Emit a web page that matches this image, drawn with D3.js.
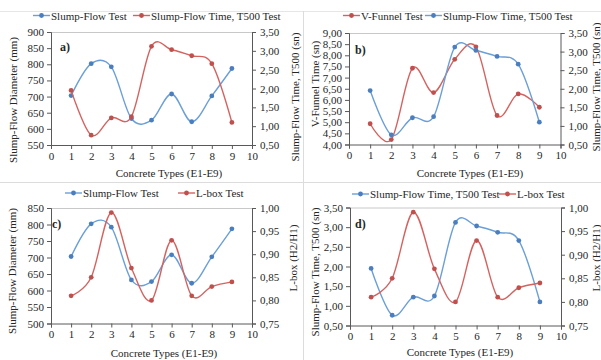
<!DOCTYPE html>
<html><head><meta charset="utf-8">
<script src="https://cdn.jsdelivr.net/npm/d3@7"></script>
<style>
body{margin:0;background:#fff;}
svg{display:block;}
</style></head>
<body>
<svg id="c" width="601" height="360"></svg>
<script>
// ---- data ----
const concreteTypes = [1,2,3,4,5,6,7,8,9];
const slumpFlowDiameter = [703, 802, 792, 632, 627, 708, 622, 702, 787];
const slumpFlowTimeT500 = [1.95, 0.76, 1.22, 1.25, 3.12, 3.03, 2.87, 2.66, 1.10];
const vFunnelTime = [4.93, 4.22, 7.42, 6.33, 7.82, 8.38, 5.30, 6.27, 5.67];
const lBoxRatio = [0.81, 0.85, 0.99, 0.87, 0.80, 0.93, 0.81, 0.83, 0.84];
const xTicks = [0,1,2,3,4,5,6,7,8,9,10];
const diamTicks = [550,600,650,700,750,800,850,900];
const diamTicksC = [500,550,600,650,700,750,800,850];
const t500Ticks = [0.5,1.0,1.5,2.0,2.5,3.0,3.5];
const vfTicks = [4.0,4.5,5.0,5.5,6.0,6.5,7.0,7.5,8.0,8.5,9.0];
const lboxTicks = [0.75,0.80,0.85,0.90,0.95,1.00];

const BLUE_LINE = "#6a9fd8", BLUE_DOT = "#4a7ebf";
const RED_LINE = "#d46360", RED_DOT = "#c0504d";
const FONT = "Liberation Serif";
const TXT = "#262626";

const svg = d3.select("#c");
const fmtInt = d3.format("d");
const fmtDec = v => d3.format(".2f")(v).replace(".", ",");

// separators
svg.append("line").attr("x1",0).attr("x2",601).attr("y1",11.5).attr("y2",11.5).attr("stroke","#e6e6e6");
svg.append("line").attr("x1",0).attr("x2",601).attr("y1",182.5).attr("y2",182.5).attr("stroke","#dcdcdc");
svg.append("line").attr("x1",303.5).attr("x2",303.5).attr("y1",11).attr("y2",360).attr("stroke","#dcdcdc");

function txt(g){ return g.append("text").attr("font-family",FONT).attr("font-size",11).attr("fill",TXT); }

function panel(p){
  const g = svg.append("g");
  const x = d3.scaleLinear().domain([0,10]).range([p.x0,p.x1]);
  const yL = d3.scaleLinear().domain(d3.extent(p.lTicks)).range([p.y1,p.y0]);
  const yR = d3.scaleLinear().domain(d3.extent(p.rTicks)).range([p.y1,p.y0]);
  g.append("line").attr("x1",p.x0).attr("x2",p.x1).attr("y1",p.y0+0.5).attr("y2",p.y0+0.5).attr("stroke","#c8c8c8");
  const axStyle = sel => { sel.attr("font-family",FONT).attr("font-size",11);
    sel.selectAll("path,line").attr("stroke","#595959");
    sel.selectAll("text").attr("fill",TXT).attr("font-family",FONT).attr("font-size",11); };
  g.append("g").attr("transform",`translate(0,${p.y1})`)
    .call(d3.axisBottom(x).tickValues(xTicks).tickFormat(fmtInt).tickSizeOuter(0).tickSize(4).tickPadding(3))
    .call(axStyle);
  g.append("g").attr("transform",`translate(${p.x0},0)`)
    .call(d3.axisLeft(yL).tickValues(p.lTicks).tickFormat(p.lFmt).tickSizeOuter(0).tickSize(4).tickPadding(3))
    .call(axStyle);
  g.append("g").attr("transform",`translate(${p.x1},0)`)
    .call(d3.axisRight(yR).tickValues(p.rTicks).tickFormat(p.rFmt).tickSizeOuter(0).tickSize(4).tickPadding(4))
    .call(axStyle);

  const series = [
    {vals:p.lVals, y:yL, line:p.lColor[0], dot:p.lColor[1]},
    {vals:p.rVals, y:yR, line:p.rColor[0], dot:p.rColor[1]}
  ];
  [0,1].forEach(i => {
    const s = series[i];
    const ln = d3.line().x((d,k)=>x(concreteTypes[k])).y(d=>s.y(d)).curve(d3.curveCardinal.tension(0));
    g.append("path").attr("d",ln(s.vals)).attr("fill","none").attr("stroke",s.line).attr("stroke-width",1.4);
    g.selectAll(null).data(s.vals).enter().append("circle")
      .attr("cx",(d,k)=>x(concreteTypes[k])).attr("cy",d=>s.y(d)).attr("r",2.4).attr("fill",s.dot);
  });

  txt(g).attr("x",p.lab[0]).attr("y",p.lab[1]).text(p.label)
    .attr("font-size",12).attr("font-weight","bold");
  txt(g).attr("x",p.xt[0]).attr("y",p.xt[1]).attr("text-anchor","middle").text("Concrete Types (E1-E9)");
  txt(g).attr("transform",`translate(${p.lt[0]},${p.lt[1]}) rotate(-90)`).attr("text-anchor","middle").text(p.lTitle);
  txt(g).attr("transform",`translate(${p.rt[0]},${p.rt[1]}) rotate(-90)`).attr("text-anchor","middle").text(p.rTitle);
  p.legend.forEach(it => {
    g.append("line").attr("x1",it.x).attr("x2",it.x+17).attr("y1",p.legY).attr("y2",p.legY).attr("stroke",it.c[0]).attr("stroke-width",1.4);
    g.append("circle").attr("cx",it.x+8.5).attr("cy",p.legY).attr("r",2.4).attr("fill",it.c[1]);
    txt(g).attr("x",it.x+18).attr("y",p.legY+4).text(it.t);
  });
}

const B = [BLUE_LINE,BLUE_DOT], R = [RED_LINE,RED_DOT];

panel({x0:51,x1:252,y0:32,y1:145,lTicks:diamTicks,rTicks:t500Ticks,lFmt:fmtInt,rFmt:fmtDec,
  lVals:slumpFlowDiameter,rVals:slumpFlowTimeT500,lColor:B,rColor:R,label:"a)",lab:[60,51],
  xt:[169,177],lt:[17,100],rt:[299,97],lTitle:"Slump-Flow Diameter (mm)",rTitle:"Slump-Flow Time, T500 (sn)",
  legY:15.5,legend:[{x:33,t:"Slump-Flow Test",c:B},{x:133,t:"Slump-Flow Time, T500 Test",c:R}]});

panel({x0:349,x1:560.5,y0:33,y1:144.5,lTicks:vfTicks,rTicks:t500Ticks,lFmt:fmtDec,rFmt:fmtDec,
  lVals:vFunnelTime,rVals:slumpFlowTimeT500,lColor:R,rColor:B,label:"b)",lab:[355,54],
  xt:[470,177],lt:[319,84],rt:[599.5,87],lTitle:"V-Funnel Time (sn)",rTitle:"Slump-Flow Time, T500 (sn)",
  legY:15.5,legend:[{x:343,t:"V-Funnel Test",c:R},{x:425,t:"Slump-Flow Time, T500 Test",c:B}]});

panel({x0:51,x1:252,y0:208,y1:323.5,lTicks:diamTicksC,rTicks:lboxTicks,lFmt:fmtInt,rFmt:fmtDec,
  lVals:slumpFlowDiameter,rVals:lBoxRatio,lColor:B,rColor:R,label:"c)",lab:[52,228],
  xt:[164,357],lt:[16,271],rt:[297,258],lTitle:"Slump-Flow Diameter (mm)",rTitle:"L-box (H2/H1)",
  legY:193,legend:[{x:65,t:"Slump-Flow Test",c:B},{x:178,t:"L-box Test",c:R}]});

panel({x0:350,x1:561,y0:207.5,y1:325.5,lTicks:t500Ticks,rTicks:lboxTicks,lFmt:fmtDec,rFmt:fmtDec,
  lVals:slumpFlowTimeT500,rVals:lBoxRatio,lColor:B,rColor:R,label:"d)",lab:[355,228],
  xt:[460,356],lt:[319,272],rt:[599.5,258],lTitle:"Slump-Flow Time, T500 (sn)",rTitle:"L-box (H2/H1)",
  legY:194,legend:[{x:352,t:"Slump-Flow Time, T500 Test",c:B},{x:499,t:"L-box Test",c:R}]});
</script>
</body></html>
